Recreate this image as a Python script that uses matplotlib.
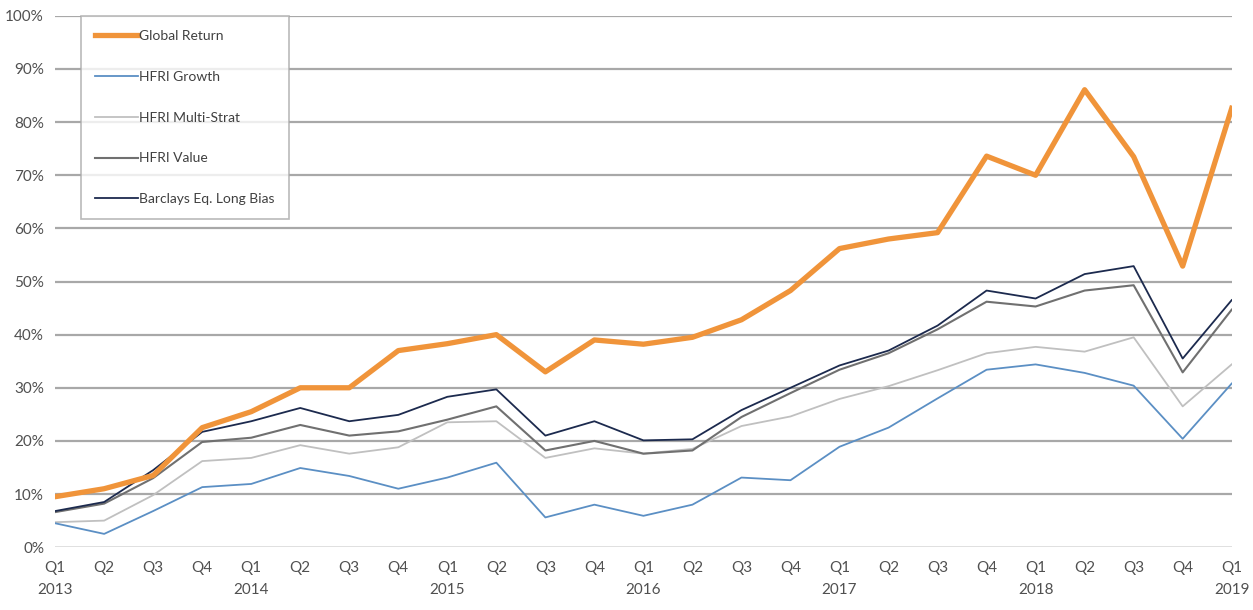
import matplotlib.pyplot as plt
from matplotlib.ticker import FuncFormatter

plt.rcParams['font.family'] = ['Lato', 'DejaVu Sans']

quarters = ["Q1\n2013", "Q2", "Q3", "Q4",
            "Q1\n2014", "Q2", "Q3", "Q4",
            "Q1\n2015", "Q2", "Q3", "Q4",
            "Q1\n2016", "Q2", "Q3", "Q4",
            "Q1\n2017", "Q2", "Q3", "Q4",
            "Q1\n2018", "Q2", "Q3", "Q4",
            "Q1\n2019"]

global_return = [9.5, 11.0, 13.5, 22.5, 25.5, 30.0, 30.0, 37.0, 38.3, 40.0, 33.0, 39.0,
                 38.2, 39.5, 42.8, 48.3, 56.2, 58.0, 59.2, 73.6, 70.0, 86.1, 73.5, 52.9, 82.6]
hfri_growth = [4.5, 2.5, 6.8, 11.3, 11.9, 14.9, 13.4, 11.0, 13.1, 15.9, 5.6, 8.0,
               5.9, 8.0, 13.1, 12.6, 18.9, 22.5, 28.0, 33.4, 34.4, 32.8, 30.4, 20.4, 30.8]
hfri_multi = [4.7, 5.0, 9.8, 16.2, 16.8, 19.2, 17.6, 18.8, 23.5, 23.7, 16.8, 18.6,
              17.6, 18.5, 22.8, 24.6, 27.9, 30.3, 33.3, 36.5, 37.7, 36.8, 39.5, 26.5, 34.4]
hfri_value = [6.6, 8.2, 13.0, 19.8, 20.6, 23.0, 21.0, 21.8, 24.0, 26.5, 18.2, 20.0,
              17.6, 18.2, 24.5, 29.0, 33.4, 36.5, 41.0, 46.2, 45.3, 48.3, 49.3, 32.9, 44.7]
barclays = [6.8, 8.5, 14.5, 21.7, 23.7, 26.2, 23.7, 24.9, 28.3, 29.7, 21.0, 23.7,
            20.1, 20.3, 25.8, 30.0, 34.2, 37.0, 41.7, 48.3, 46.8, 51.4, 52.9, 35.5, 46.5]


def main():
    fig = plt.figure(figsize=(12.53, 6.10), dpi=100)
    ax = fig.add_axes([0.044, 0.103, 0.939, 0.871])

    x = range(len(quarters))
    ax.plot(x, global_return, color="#F0943A", lw=3.8, label="Global Return", zorder=6)
    ax.plot(x, hfri_growth, color="#5B8FC4", lw=1.3, label="HFRI Growth", zorder=5)
    ax.plot(x, hfri_multi, color="#C0C0C0", lw=1.3, label="HFRI Multi-Strat", zorder=3)
    ax.plot(x, hfri_value, color="#707070", lw=1.5, label="HFRI Value", zorder=4)
    ax.plot(x, barclays, color="#1C2A4E", lw=1.3, label="Barclays Eq. Long Bias", zorder=5)

    ax.set_xlim(0, len(quarters) - 1)
    ax.set_ylim(0, 100)
    ax.set_yticks(range(0, 101, 10))
    ax.yaxis.set_major_formatter(FuncFormatter(lambda v, p: f"{int(v)}%"))
    ax.set_xticks(list(x))
    ax.set_xticklabels(quarters, linespacing=1.7)

    # Сетка
    for v in range(10, 101, 10):
        ax.axhline(v, color="#A8A8A8", lw=1.6, zorder=1)
    ax.axhline(0, color="#D6D6D6", lw=1.8, zorder=1)

    for s in ax.spines.values():
        s.set_visible(False)
    ax.tick_params(axis="both", length=0, colors="#505050", labelsize=11)
    ax.tick_params(axis="y", pad=8)
    ax.tick_params(axis="x", pad=10)

    leg = ax.legend(loc="upper left", bbox_to_anchor=(0.022, 1.0), fontsize=10,
                    frameon=True, fancybox=False, labelspacing=2.08,
                    handlelength=3.1, handletextpad=0.1, borderpad=1.0,
                    borderaxespad=0.0)
    leg.get_frame().set_edgecolor("#A8A8A8")
    leg.get_frame().set_linewidth(1.2)
    leg.set_zorder(10)
    for t in leg.get_texts():
        t.set_color("#404040")

    fig.savefig("out.png", dpi=100)


if __name__ == "__main__":
    main()
